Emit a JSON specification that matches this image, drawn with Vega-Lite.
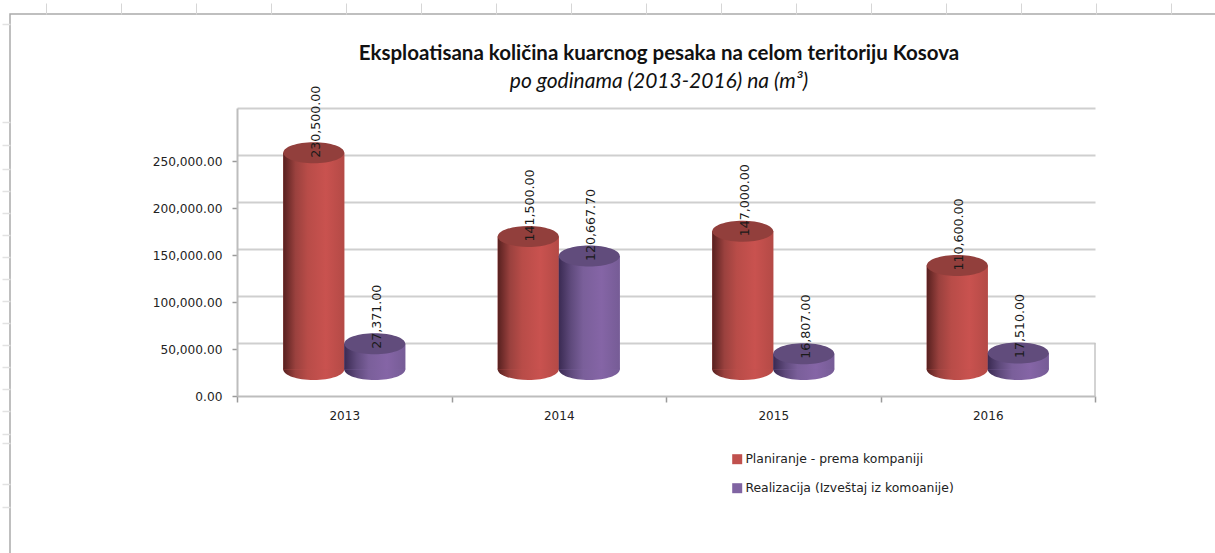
{
"$schema":"https://vega.github.io/schema/vega-lite/v6.json",
"width":1206,"height":540,
"padding":{"left":10,"top":14,"right":-1,"bottom":-1},
"autosize":"none",
"background":"#ffffff",
"config":{"view":{"stroke":"#aaaaaa","strokeWidth":1.5,"fill":"#ffffff"}},
"title":{"text":"Eksploatisana količina kuarcnog pesaka na celom teritoriju Kosova","subtitle":"po godinama (2013-2016) na (m³)","anchor":"middle","dx":46,"offset":-89,"font":"Lato","fontSize":20.5,"fontWeight":"bold","color":"#111111","subtitleFont":"Lato","subtitleFontSize":21,"subtitleFontStyle":"italic","subtitleColor":"#111111","subtitlePadding":6},
"datasets":{"d":[
{"year":"2013","series":"Planiranje - prema kompaniji","value":230500},
{"year":"2013","series":"Realizacija (Izveštaj iz komoanije)","value":27371},
{"year":"2014","series":"Planiranje - prema kompaniji","value":141500},
{"year":"2014","series":"Realizacija (Izveštaj iz komoanije)","value":120667.7},
{"year":"2015","series":"Planiranje - prema kompaniji","value":147000},
{"year":"2015","series":"Realizacija (Izveštaj iz komoanije)","value":16807},
{"year":"2016","series":"Planiranje - prema kompaniji","value":110600},
{"year":"2016","series":"Realizacija (Izveštaj iz komoanije)","value":17510}
]},
"layer":[
{"data":{"values":[{"col":0,"row":0}]},
"mark":{"type":"point","opacity":0},
"encoding":{
"x":{"field":"col","type":"quantitative","scale":{"domain":[0,1206],"range":[0,1206],"nice":false},"axis":{"orient":"top","title":null,"labels":false,"domain":false,"grid":false,"tickSize":11,"tickColor":"#d6d6d6","tickWidth":1,"values":[36,111,186,261,336,411,486,561,636,711,786,861,936,1011,1086,1161]}},
"y":{"field":"row","type":"quantitative","scale":{"domain":[0,540],"range":[0,540],"nice":false},"axis":{"orient":"left","title":null,"labels":false,"domain":false,"grid":false,"tickSize":8,"tickColor":"#e2e2e2","tickWidth":1.5,"values":[10,108,131,155,177,199,221,243,265,287,309,331,353,375,397,420,429,470,493]}}}},
{"encoding":{"x":{"field":"year","type":"nominal","scale":{"domain":["2013","2014","2015","2016"],"range":[227,1085],"paddingInner":0,"paddingOuter":0},"axis":{"title":null,"orient":"bottom","offset":-158,"labelAngle":0,"tickBand":"extent","tickSize":6,"tickColor":"#9a9a9a","tickWidth":1.5,"domainColor":"#bdbdbd","domainWidth":2,"labelFont":"DejaVu Sans","labelFontSize":12,"labelColor":"#222222","labelPadding":8}}},
"layer":[
{"data":{"values":[{"year":"2013","g":50000},{"year":"2013","g":100000},{"year":"2013","g":150000},{"year":"2013","g":200000},{"year":"2013","g":250000},{"year":"2013","g":300000}]},
"mark":{"type":"point","opacity":0},
"encoding":{"y":{"field":"g","type":"quantitative","scale":{"domain":[0,306383],"range":[376,88],"nice":false},"axis":{"orient":"left","offset":-227,"labels":false,"ticks":false,"domain":false,"title":null,"grid":true,"gridColor":"#cfcfcf","gridWidth":2,"values":[50000,100000,150000,200000,250000,300000]}}}},
{"data":{"values":[{"year":"2016"}]},
"mark":{"type":"rule","color":"#c4c4c4","strokeWidth":1.5},
"encoding":{"x":{"field":"year","type":"nominal","bandPosition":1},"y":{"datum":0,"type":"quantitative","scale":{"domain":[0,306383],"range":[382,94],"nice":false},"axis":null},"y2":{"datum":56383}}},
{"data":{"name":"d"},
"encoding":{
"xOffset":{"field":"series","type":"nominal","scale":{"domain":["Planiranje - prema kompaniji","Realizacija (Izveštaj iz komoanije)"],"paddingInner":0,"paddingOuter":0.758}},
"y":{"field":"value","type":"quantitative","scale":{"domain":[0,306383],"range":[382,94],"nice":false},"axis":{"orient":"left","offset":-227,"title":null,"format":",.2f","values":[0,50000,100000,150000,200000,250000],"grid":false,"tickSize":5,"tickColor":"#9a9a9a","tickWidth":1.5,"domainColor":"#bdbdbd","domainWidth":2,"labelFont":"DejaVu Sans","labelFontSize":12.2,"labelColor":"#222222","labelPadding":10}}},
"layer":[
{"transform":[{"filter":"datum.series=='Planiranje - prema kompaniji'"}],
"mark":{"type":"point","filled":true,"shape":"M-1,0A1,0.344,0,1,1,1,0A1,0.344,0,1,1,-1,0Z","size":3721,"opacity":1,"yOffset":-26.5,"strokeWidth":0,"fill":{"gradient":"linear","x1":0,"x2":1,"y1":0,"y2":0,"stops":[{"offset":0,"color":"#57201f"},{"offset":0.2,"color":"#9a413e"},{"offset":0.4,"color":"#b84c48"},{"offset":0.7,"color":"#c9524f"},{"offset":1,"color":"#b44a46"}]}},
"encoding":{"y":{"datum":0,"type":"quantitative"}}},
{"transform":[{"filter":"datum.series!='Planiranje - prema kompaniji'"}],
"mark":{"type":"point","filled":true,"shape":"M-1,0A1,0.344,0,1,1,1,0A1,0.344,0,1,1,-1,0Z","size":3721,"opacity":1,"yOffset":-26.5,"strokeWidth":0,"fill":{"gradient":"linear","x1":0,"x2":1,"y1":0,"y2":0,"stops":[{"offset":0,"color":"#3a2a52"},{"offset":0.2,"color":"#5f4a7c"},{"offset":0.4,"color":"#7a5f9a"},{"offset":0.7,"color":"#8565a6"},{"offset":1,"color":"#765c96"}]}},
"encoding":{"y":{"datum":0,"type":"quantitative"}}},
{"mark":{"type":"bar","yOffset":-26.5,"y2Offset":-26.5},
"encoding":{"color":{"field":"series","type":"nominal","scale":{"domain":["Planiranje - prema kompaniji","Realizacija (Izveštaj iz komoanije)"],"range":["#c0504d","#8064a2"]},"legend":{"orient":"none","legendX":721,"legendY":439,"title":null,"symbolType":"square","symbolSize":100,"symbolStrokeWidth":0,"labelFont":"DejaVu Sans","labelFontSize":12.4,"labelColor":"#222222","labelOffset":2,"rowPadding":16,"labelLimit":400}}}},
{"transform":[{"filter":"datum.series=='Planiranje - prema kompaniji'"}],
"mark":{"type":"bar","yOffset":-26.5,"y2Offset":-26.5,"fill":{"gradient":"linear","x1":0,"x2":1,"y1":0,"y2":0,"stops":[{"offset":0,"color":"#57201f"},{"offset":0.2,"color":"#9a413e"},{"offset":0.4,"color":"#b84c48"},{"offset":0.7,"color":"#c9524f"},{"offset":1,"color":"#b44a46"}]}}},
{"transform":[{"filter":"datum.series!='Planiranje - prema kompaniji'"}],
"mark":{"type":"bar","yOffset":-26.5,"y2Offset":-26.5,"fill":{"gradient":"linear","x1":0,"x2":1,"y1":0,"y2":0,"stops":[{"offset":0,"color":"#3a2a52"},{"offset":0.2,"color":"#5f4a7c"},{"offset":0.4,"color":"#7a5f9a"},{"offset":0.7,"color":"#8565a6"},{"offset":1,"color":"#765c96"}]}}},
{"mark":{"type":"point","filled":true,"shape":"M-1,0A1,0.344,0,1,1,1,0A1,0.344,0,1,1,-1,0Z","size":3721,"opacity":1,"yOffset":-26.5,"strokeWidth":0},
"encoding":{"fill":{"condition":{"test":"datum.series=='Planiranje - prema kompaniji'","value":"#923f3c"},"value":"#614c7c"}}},
{"mark":{"type":"text","angle":270,"align":"left","baseline":"middle","dy":2,"yOffset":-21.5,"font":"DejaVu Sans","fontSize":12.6,"color":"#1a1a1a"},
"encoding":{"text":{"field":"value","type":"quantitative","format":",.2f"}}}
]}
],
"resolve":{"scale":{"y":"independent"},"axis":{"y":"independent"}}}
],
"resolve":{"scale":{"x":"independent","y":"independent"},"axis":{"x":"independent","y":"independent"}}
}
